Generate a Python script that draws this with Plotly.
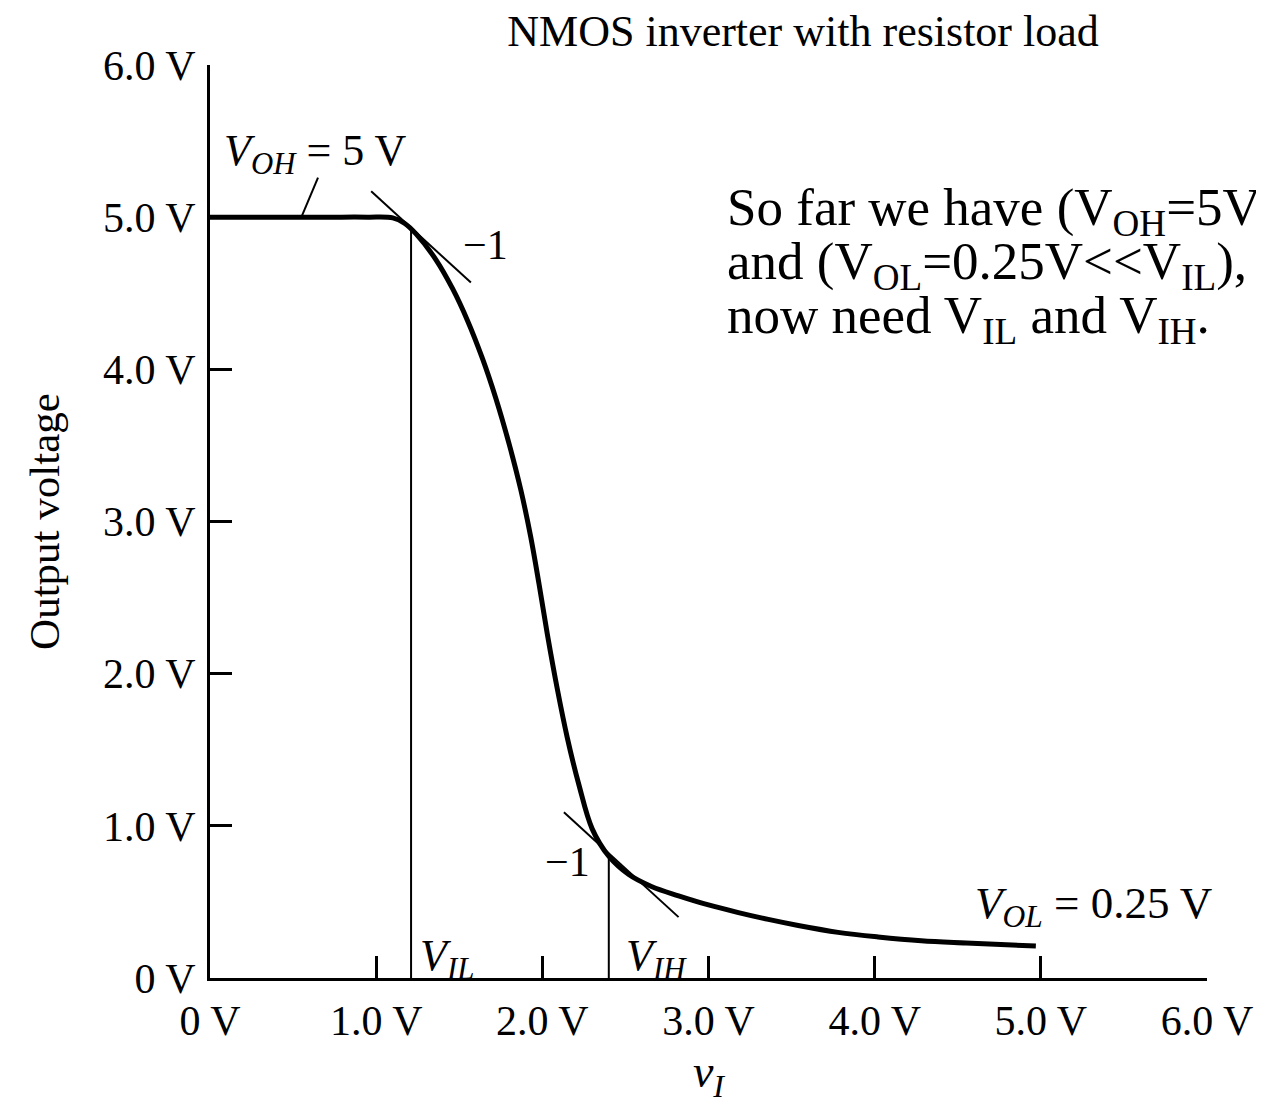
import numpy as np
import plotly.graph_objects as go

# ---- data ----
vin = [0.0, 0.35, 0.7, 0.95, 1.10, 1.17, 1.24, 1.36, 1.46, 1.55, 1.64, 1.72,
       1.80, 1.87, 1.93, 1.98, 2.03, 2.09, 2.15, 2.22, 2.30, 2.40, 2.52, 2.66,
       2.82, 3.00, 3.18, 3.36, 3.54, 3.78, 4.02, 4.28, 4.55, 4.97]
vout = [5.0, 5.0, 5.0, 5.0, 4.995, 4.96, 4.89, 4.72, 4.53, 4.32, 4.07, 3.81,
        3.51, 3.21, 2.90, 2.59, 2.26, 1.90, 1.58, 1.27, 0.98, 0.80, 0.68, 0.60,
        0.54, 0.48, 0.43, 0.385, 0.345, 0.30, 0.27, 0.245, 0.23, 0.21]

VIL = 1.21
VIH = 2.40
tangent_x = [VIL, VIH]
tangent_y = [4.93, 0.82]
tangent_slope = -1.0
tangent_left = [0.24, 0.27]
tangent_right = [0.36, 0.42]

tick_vals = [0, 1, 2, 3, 4, 5, 6]
tick_text = ["0 V", "1.0 V", "2.0 V", "3.0 V", "4.0 V", "5.0 V", "6.0 V"]

FONT = "Liberation Serif, Times New Roman, serif"

fig = go.Figure()

# transfer curve
fig.add_trace(go.Scatter(x=vin, y=vout, mode="lines",
                         line=dict(color="black", width=5, shape="spline", smoothing=1.0),
                         hoverinfo="skip", showlegend=False))

# tangent lines (slope -1)
for tx, ty, dl, dr in zip(tangent_x, tangent_y, tangent_left, tangent_right):
    xs = [tx - dl, tx + dr]
    ys = [ty + tangent_slope * (x - tx) for x in xs]
    fig.add_trace(go.Scatter(x=xs, y=ys, mode="lines",
                             line=dict(color="black", width=2),
                             hoverinfo="skip", showlegend=False))

# vertical lines at VIL and VIH
for v in [VIL, VIH]:
    top = float(np.interp(v, vin, vout))
    fig.add_trace(go.Scatter(x=[v, v], y=[0, top], mode="lines",
                             line=dict(color="black", width=2),
                             hoverinfo="skip", showlegend=False))

# leader for V_OH label
fig.add_trace(go.Scatter(x=[0.65, 0.55], y=[5.26, 5.0], mode="lines",
                         line=dict(color="black", width=2),
                         hoverinfo="skip", showlegend=False))

ann = []
def A(text, x, y, size, xanchor="left", yanchor="middle", xref="x", yref="y"):
    ann.append(dict(text=text, x=x, y=y, xref=xref, yref=yref, showarrow=False,
                    xanchor=xanchor, yanchor=yanchor, align="left",
                    font=dict(family=FONT, size=size, color="black")))

A("<i>V</i><sub><i>OH</i></sub> = 5 V", 0.07, 5.42, 44)
A("\u22121", 1.51, 4.82, 42)
A("\u22121", 2.30, 0.76, 42, xanchor="right")
A("<i>V</i><sub><i>IL</i></sub>", 1.25, 0.13, 44)
A("<i>V</i><sub><i>IH</i></sub>", 2.49, 0.13, 44)
A("<i>V</i><sub><i>OL</i></sub> = 0.25 V", 4.59, 0.47, 45)

A("So far we have (V<sub>OH</sub>=5V&gt;&gt;V<sub>IH</sub>)", 3.10, 5.04, 53)
A("and (V<sub>OL</sub>=0.25V&lt;&lt;V<sub>IL</sub>), we", 3.10, 4.685, 53)
A("now need V<sub>IL</sub> and V<sub>IH</sub>.", 3.10, 4.33, 53)

fig.update_layout(
    width=1256, height=1096,
    margin=dict(l=202, r=57, t=57, b=126),
    paper_bgcolor="white", plot_bgcolor="white",
    title=dict(text="NMOS inverter with resistor load", x=0.633, xanchor="center",
               y=0.979, yanchor="middle", font=dict(family=FONT, size=44, color="black")),
    annotations=ann,
    font=dict(family=FONT, color="black"),
)
fig.update_xaxes(range=[0, 6], tickvals=tick_vals, ticktext=tick_text,
                 ticks="inside", ticklen=22, tickwidth=2.5, tickcolor="black",
                 showline=True, linewidth=3, linecolor="black", showgrid=False,
                 zeroline=False, tickfont=dict(family=FONT, size=42),
                 ticklabelstandoff=4,
                 title=dict(text="<i>v</i><sub><i>I</i></sub>",
                            font=dict(family=FONT, size=46), standoff=14))
fig.update_yaxes(range=[0, 6], tickvals=tick_vals, ticktext=tick_text,
                 ticks="inside", ticklen=22, tickwidth=2.5, tickcolor="black",
                 showline=True, linewidth=3, linecolor="black", showgrid=False,
                 zeroline=False, tickfont=dict(family=FONT, size=42),
                 ticklabelstandoff=3,
                 title=dict(text="Output voltage", font=dict(family=FONT, size=43),
                            standoff=30))

fig.write_html("out.html")
